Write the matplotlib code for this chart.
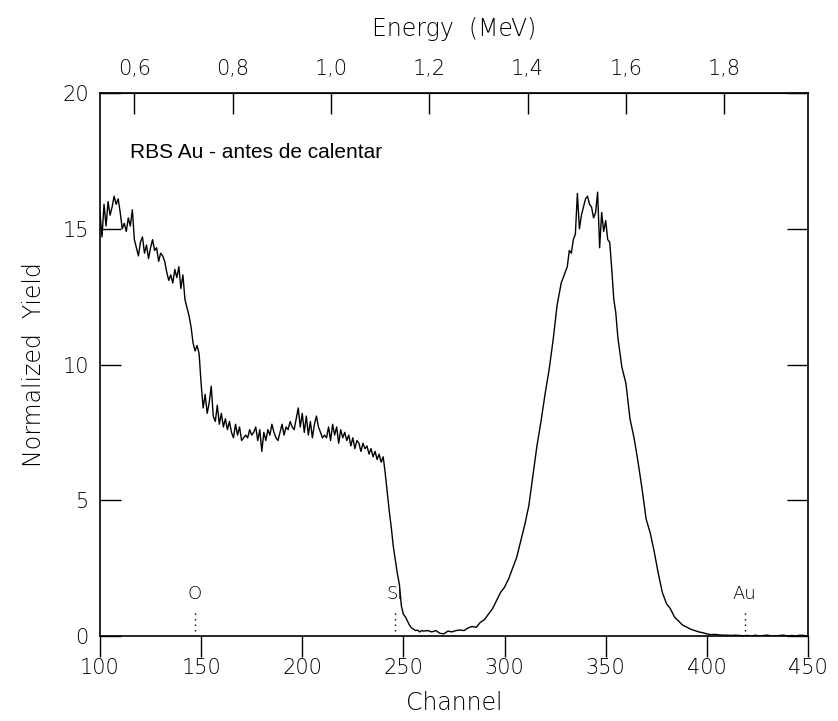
import matplotlib.pyplot as plt
import numpy as np

# Canales con resolución de 1 canal en las zonas ruidosas
canal = list(range(100, 261)) + list(range(262, 331, 2)) + list(range(331, 357)) + list(range(358, 451, 2))

rendimiento = [
    # 100-140
    15.6, 14.7, 15.9, 15.1, 16.0, 15.5, 15.8, 16.2, 15.9, 16.1,
    15.6, 15.0, 15.2, 14.9, 15.4, 15.1, 15.7, 14.6, 14.3, 14.0,
    14.5, 14.7, 14.1, 14.4, 13.9, 14.3, 14.6, 14.2, 14.3, 13.8,
    14.1, 14.0, 13.8, 13.4, 13.1, 13.3, 13.0, 13.5, 13.2, 13.6,
    12.8,
    # 141-180
    13.3, 12.4, 12.1, 11.8, 11.4, 10.8, 10.5, 10.7, 10.4, 9.3,
    8.4, 8.9, 8.2, 8.6, 9.2, 8.1, 7.9, 8.5, 7.8, 8.2,
    7.7, 8.0, 7.6, 7.9, 7.5, 7.3, 7.8, 7.4, 7.7, 7.2,
    7.3, 7.4, 7.3, 7.6, 7.4, 7.5, 7.7, 7.2, 7.6, 6.8,
    # 181-220
    7.5, 7.2, 7.6, 7.4, 7.8, 7.5, 7.3, 7.2, 7.5, 7.8,
    7.4, 7.7, 7.6, 7.9, 7.7, 7.6, 8.0, 8.4, 7.7, 8.2,
    7.5, 8.1, 7.4, 7.9, 7.3, 7.8, 8.1, 7.7, 7.5, 7.3,
    7.4, 7.3, 7.7, 7.2, 7.8, 7.4, 7.7, 7.1, 7.6, 7.3,
    # 221-260
    7.5, 7.2, 7.4, 7.0, 7.3, 6.9, 7.2, 7.1, 6.8, 7.1,
    6.9, 7.0, 6.7, 6.9, 6.6, 6.8, 6.5, 6.7, 6.4, 6.6,
    6.0, 5.3, 4.6, 4.0, 3.3, 2.8, 2.3, 1.9, 1.1, 0.8,
    0.7, 0.55, 0.4, 0.3, 0.25, 0.2, 0.22, 0.15, 0.2, 0.18,
    # 262-330 (cada 2)
    0.2, 0.15, 0.2, 0.1, 0.08, 0.18, 0.15, 0.2, 0.22, 0.2,
    0.3, 0.35, 0.32, 0.5, 0.6, 0.8, 1.0, 1.3, 1.6, 1.8,
    2.1, 2.5, 2.9, 3.5, 4.1, 4.8, 5.9, 7.0, 7.9, 8.9,
    9.8, 10.9, 12.2, 13.0, 13.4,
    # 331-356
    13.6, 14.2, 14.1, 14.6, 14.8, 16.3, 15.0, 15.5, 15.8, 16.1,
    16.2, 15.9, 15.8, 15.4, 15.6, 16.35, 14.3, 15.6, 14.9, 15.3,
    14.6, 14.5, 13.5, 12.4, 11.9, 11.0,
    # 358-450 (cada 2)
    9.9, 9.3, 8.0, 7.3, 6.4, 5.4, 4.3, 3.8, 3.1, 2.3,
    1.6, 1.2, 1.0, 0.7, 0.55, 0.4, 0.33, 0.25, 0.2, 0.15,
    0.12, 0.08, 0.05, 0.06, 0.04, 0.03, 0.03, 0.02, 0.03, 0.02,
    0.01, 0.02, 0.0, 0.03, 0.0, 0.02, 0.03, 0.0, 0.0, 0.02,
    0.03, 0.0, 0.02, 0.0, 0.03, 0.02, 0.0,
]

# Posiciones de superficie de los elementos
elementos = ["O", "Si", "Au"]
canal_elementos = [147, 245.6, 418.7]

# Calibración de energía (MeV por canal)
ganancia = 0.004115
offset = 0.1187
ticks_energia = [0.6, 0.8, 1.0, 1.2, 1.4, 1.6, 1.8]

fuente = "DejaVu Sans"
peso = "light"

fig = plt.figure(figsize=(8.38, 7.21), dpi=100)
ax = fig.add_axes([0.1193, 0.1179, 0.8449, 0.7531])

ax.plot(canal, rendimiento, color="black", linewidth=1.0)

for nombre, ch in zip(elementos, canal_elementos):
    ax.vlines(ch, 0.2, 0.9, colors="black", linewidth=1.0, linestyles=(0, (1, 3)))
    ax.text(ch, 1.2, nombre, ha="center", va="bottom", fontsize=13,
            family=fuente, weight=peso)

ax.text(0.043, 0.88, "RBS Au - antes de calentar", transform=ax.transAxes,
        fontsize=15, family="Liberation Sans")

ax.set_xlim(100, 450)
ax.set_ylim(0, 20)
ax.set_xticks([100, 150, 200, 250, 300, 350, 400, 450])
ax.set_yticks([0, 5, 10, 15, 20])

ax.tick_params(axis="x", direction="out", length=15, width=1.0, labelsize=15, pad=1)
ax.tick_params(axis="y", direction="in", length=15, width=1.0, labelsize=15, pad=8,
               right=True)
for lbl in ax.get_xticklabels() + ax.get_yticklabels():
    lbl.set_family(fuente)
    lbl.set_weight(peso)
for sp in ax.spines.values():
    sp.set_linewidth(1.2)

ax.set_xlabel("Channel", fontsize=17, family=fuente, weight=peso, labelpad=9)
ax.set_ylabel("Normalized  Yield", fontsize=17, family=fuente, weight=peso, labelpad=12)

sec = ax.secondary_xaxis("top", functions=(lambda c: ganancia * c + offset,
                                           lambda e: (e - offset) / ganancia))
sec.set_xticks(ticks_energia)
sec.set_xticklabels([f"{e:.1f}".replace(".", ",") for e in ticks_energia],
                    family=fuente, weight=peso)
sec.tick_params(direction="in", length=15, width=1.0, labelsize=15, pad=10)
sec.set_xlabel("Energy  (MeV)", fontsize=17, family=fuente, weight=peso, labelpad=17)

plt.savefig("out.png", dpi=100)
